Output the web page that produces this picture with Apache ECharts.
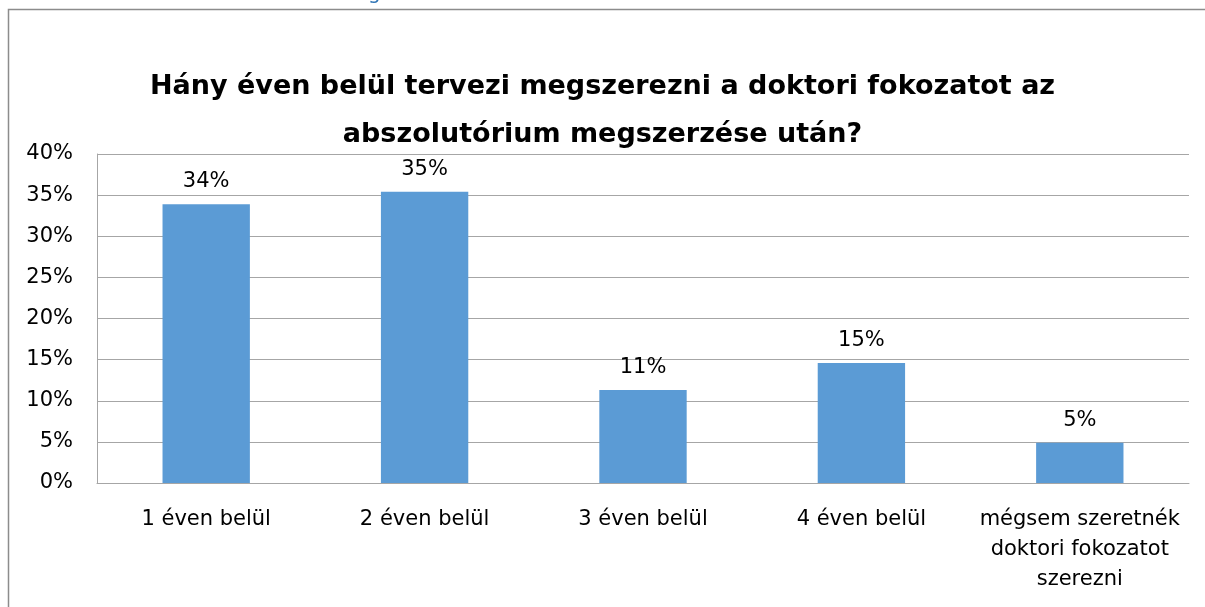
<!DOCTYPE html>
<html>
<head>
<meta charset="utf-8">
<script src="https://cdn.jsdelivr.net/npm/echarts@6/dist/echarts.min.js"></script>
<style>
  html, body { margin: 0; padding: 0; background: #fff; }
  #chart { width: 1205px; height: 607px; }
</style>
</head>
<body>
<div id="chart"></div>
<script>
// categories + values (fractions)
const categories = ['1 éven belül', '2 éven belül', '3 éven belül', '4 éven belül', 'mégsem szeretnék\ndoktori fokozatot\nszerezni']
const values = [0.339, 0.354, 0.113, 0.146, 0.049]
const titleLines = ['Hány éven belül tervezi megszerezni a doktori fokozatot az', 'abszolutórium megszerzése után?']

// reference text looks wide (stretched), DejaVu Sans gets closest
const FONT = '"DejaVu Sans", "Open Sans", sans-serif'

const chart = echarts.init(document.getElementById('chart'))

const option = {
    backgroundColor: '#fff',
    animation: false,
    title: {
        text: titleLines.join('\n'),
        left: 'center',
        top: 58,
        textStyle: {
            fontFamily: FONT,
            fontSize: 27,
            fontWeight: 'bold',
            color: '#000',
            lineHeight: 48
        }
    },
    graphic: [
        // outer frame (top + left edges visible)
        {
            type: 'polyline',
            shape: { points: [[8.5, 620], [8.5, 9.5], [1210, 9.5]] },
            style: { stroke: '#8c8c8c', lineWidth: 1.5, fill: null }
        },
        // cut-off heading fragment above the frame
        {
            type: 'text',
            left: 368,
            top: -16,
            style: { text: 'g', fill: '#2e74b5', font: '20px ' + FONT }
        }
    ],
    grid: { left: 97, right: 16, top: 154, bottom: 124 },
    xAxis: {
        type: 'category',
        data: categories,
        axisLine: { show: true, lineStyle: { color: '#a6a6a6', width: 1 } },
        axisTick: { show: false },
        axisLabel: {
            interval: 0,
            margin: 22,
            fontFamily: FONT,
            fontSize: 21,
            color: '#000',
            lineHeight: 30
        }
    },
    yAxis: {
        type: 'value',
        min: 0,
        max: 0.4,
        interval: 0.05,
        axisLine: { show: true, lineStyle: { color: '#a6a6a6', width: 1 } },
        axisTick: { show: false },
        splitLine: { lineStyle: { color: '#a6a6a6', width: 1 } },
        axisLabel: {
            margin: 24,
            fontFamily: FONT,
            fontSize: 21,
            color: '#000',
            formatter: v => Math.round(v * 100) + '%'
        }
    },
    series: [{
        type: 'bar',
        data: values,
        barCategoryGap: '60%',
        itemStyle: { color: '#5b9bd5' },
        label: {
            show: true,
            position: 'top',
            distance: 12,
            fontFamily: FONT,
            fontSize: 21,
            color: '#000',
            formatter: p => Math.round(p.value * 100) + '%'
        }
    }]
}

chart.setOption(option)
</script>
</body>
</html>
